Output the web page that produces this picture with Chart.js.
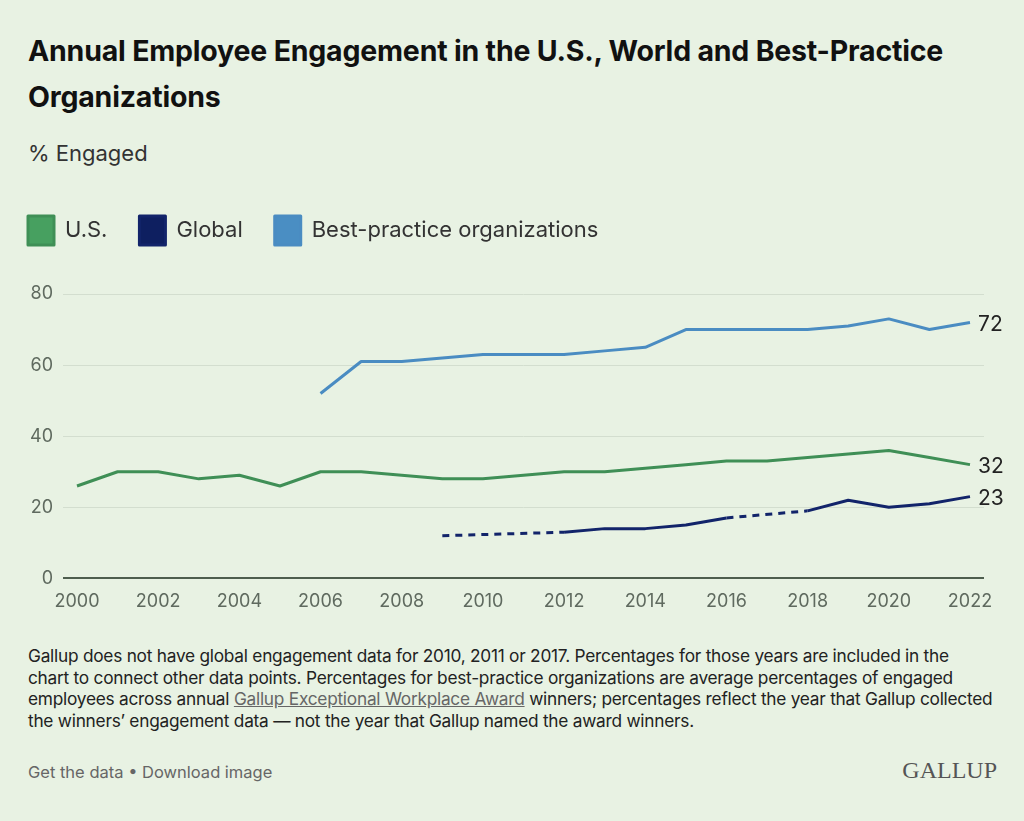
<!DOCTYPE html>
<html>
<head>
<meta charset="utf-8">
<script src="https://cdn.jsdelivr.net/npm/chart.js@4"></script>
<style>
  html, body { margin: 0; padding: 0; background: #e8f2e3; }
  body { width: 1024px; height: 821px; position: relative; overflow: hidden; font-family: Inter, "Noto Sans", sans-serif; color: #111; }
  .title { position: absolute; left: 28px; top: 28px; width: 960px; font-size: 28.5px; font-weight: 700; line-height: 46px; letter-spacing: -0.2px; }
  .sub { position: absolute; left: 28px; top: 140px; font-size: 22px; color: #333; }
  .chart-box { position: absolute; left: -4px; top: 184px; width: 1028px; height: 432px; }
  .note { position: absolute; left: 28px; top: 645px; width: 990px; font-size: 17.3px; line-height: 21.6px; color: #222; letter-spacing: -0.25px; white-space: nowrap; }
  .note u { color: #666; }
  .foot { position: absolute; left: 28px; top: 762px; font-size: 16.5px; color: #666; }
  .logo { position: absolute; right: 27px; top: 757px; font-family: "Liberation Serif", "DejaVu Serif", serif; font-size: 24px; color: #555; }
</style>
</head>
<body>
<div class="title">Annual Employee Engagement in the U.S., World and Best-Practice<br>Organizations</div>
<div class="sub">% Engaged</div>
<div class="chart-box"><canvas id="chart"></canvas></div>
<div class="note">Gallup does not have global engagement data for 2010, 2011 or 2017. Percentages for those years are included in the<br>chart to connect other data points. Percentages for best-practice organizations are average percentages of engaged<br>employees across annual <u>Gallup Exceptional Workplace Award</u> winners; percentages reflect the year that Gallup collected<br>the winners’ engagement data — not the year that Gallup named the award winners.</div>
<div class="foot">Get the data • Download image</div>
<div class="logo">GALLUP</div>
<script>
const years = [2000, 2001, 2002, 2003, 2004, 2005, 2006, 2007, 2008, 2009, 2010, 2011,
    2012, 2013, 2014, 2015, 2016, 2017, 2018, 2019, 2020, 2021, 2022];
const usValues = [26, 30, 30, 28, 29, 26, 30, 30, 29, 28, 28, 29,
    30, 30, 31, 32, 33, 33, 34, 35, 36, 34, 32];
const globalValues = [null, null, null, null, null, null, null, null, null, 12, null, null,
    13, 14, 14, 15, 17, null, 19, 22, 20, 21, 23];
const bestPracticeValues = [null, null, null, null, null, null, 52, 61, 61, 62, 63, 63,
    63, 64, 65, 70, 70, 70, 70, 71, 73, 70, 72];
const yTicks = [0, 20, 40, 60, 80];
const xTicks = [2000, 2002, 2004, 2006, 2008, 2010, 2012, 2014, 2016, 2018, 2020, 2022];

const FONT = 'Inter, "Noto Sans", sans-serif';

const toPoints = values => years.map((year, i) => ({x: year, y: values[i]}));

// dashed where the line jumps over a missing year
const gapDash = ctx => (ctx.p0.skip || ctx.p1.skip) ? [7, 6] : undefined;

// value label at the end of each line
const endLabels = {
    id: 'endLabels',
    afterDatasetsDraw(chart) {
        const ctx = chart.ctx;
        ctx.save();
        ctx.font = '21px ' + FONT;
        ctx.fillStyle = '#222';
        ctx.textBaseline = 'middle';
        chart.data.datasets.forEach((ds, i) => {
            const meta = chart.getDatasetMeta(i);
            const last = meta.data[meta.data.length - 1];
            const value = ds.data[ds.data.length - 1].y;
            ctx.fillText(String(value), last.x + 8, last.y + 2);
        });
        ctx.restore();
    }
};

// extra room under the legend
const legendGap = {
    id: 'legendGap',
    beforeInit(chart) {
        const fit = chart.legend.fit;
        chart.legend.fit = function () {
            fit.bind(chart.legend)();
            this.height += 39;
        };
    }
};

const chartCtx = document.getElementById('chart').getContext('2d');
new Chart(chartCtx, {
    type: 'line',
    data: {
        datasets: [{
            label: 'U.S.',
            data: toPoints(usValues),
            borderColor: '#3f8f56',
            backgroundColor: '#47a060',
        }, {
            label: 'Global',
            data: toPoints(globalValues),
            borderColor: '#12246a',
            backgroundColor: '#0e1f60',
            spanGaps: true,
            segment: {borderDash: gapDash},
        }, {
            label: 'Best-practice organizations',
            data: toPoints(bestPracticeValues),
            borderColor: '#4a8cc2',
            backgroundColor: '#4a8ec3',
        }],
    },
    options: {
        responsive: true,
        maintainAspectRatio: false,
        animation: false,
        elements: {
            point: {radius: 0},
            line: {borderWidth: 3, tension: 0, borderJoinStyle: 'round'},
        },
        layout: {padding: {left: 0, right: 40, top: 0, bottom: 0}},
        plugins: {
            tooltip: {enabled: false},
            legend: {
                position: 'top',
                align: 'start',
                labels: {
                    boxWidth: 26,
                    boxHeight: 29,
                    padding: 32,
                    color: '#333',
                    font: {family: FONT, size: 22},
                },
            },
        },
        scales: {
            x: {
                type: 'linear',
                min: 1999.655,
                max: 2022.345,
                grid: {display: false},
                border: {display: false},
                afterBuildTicks: axis => { axis.ticks = xTicks.map(v => ({value: v})); },
                ticks: {
                    color: '#5f6a5f',
                    padding: 4,
                    maxRotation: 0,
                    autoSkip: false,
                    font: {family: FONT, size: 18},
                    callback: v => String(v),
                },
            },
            y: {
                min: 0,
                max: 80,
                afterBuildTicks: axis => { axis.ticks = yTicks.map(v => ({value: v})); },
                afterFit: axis => { axis.width = 67; },
                border: {display: false},
                grid: {
                    drawTicks: false,
                    color: ctx => ctx.tick && ctx.tick.value === 0 ? '#4e5e4e' : '#d3decf',
                    lineWidth: ctx => ctx.tick && ctx.tick.value === 0 ? 2 : 1,
                },
                ticks: {
                    color: '#5f6a5f',
                    padding: 10,
                    font: {family: FONT, size: 18},
                },
            },
        },
    },
    plugins: [endLabels, legendGap],
});
</script>
</body>
</html>
